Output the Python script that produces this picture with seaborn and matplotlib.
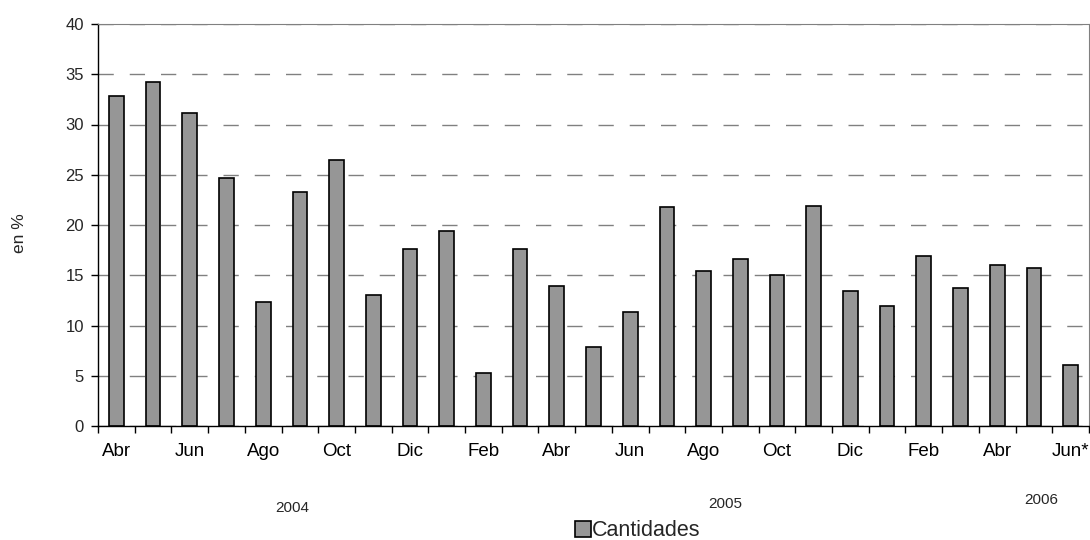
import matplotlib
matplotlib.use("Agg")
import matplotlib.pyplot as plt
import seaborn as sns
import pandas as pd
import numpy as np
from matplotlib.transforms import blended_transform_factory

# ---- data ----
months = ["Abr", "May", "Jun", "Jul", "Ago", "Sep", "Oct", "Nov", "Dic",
          "Ene", "Feb", "Mar", "Abr", "May", "Jun", "Jul", "Ago", "Sep", "Oct", "Nov", "Dic",
          "Ene", "Feb", "Mar", "Abr", "May", "Jun*"]
years = [2004] * 9 + [2005] * 12 + [2006] * 6
values = [32.8, 34.2, 31.1, 24.7, 12.3, 23.3, 26.5, 13.0, 17.6,
          19.4, 5.3, 17.6, 13.9, 7.9, 11.3, 21.8, 15.4, 16.6, 15.0, 21.9, 13.4,
          11.9, 16.9, 13.7, 16.0, 15.7, 6.1]
shown_ticks = ["Abr", "Jun", "Ago", "Oct", "Dic", "Feb", "Abr", "Jun",
               "Ago", "Oct", "Dic", "Feb", "Abr", "Jun*"]
year_labels = ["2004", "2005", "2006"]
year_label_x = [4.8, 16.6, 25.2]
year_label_y = [-0.204, -0.194, -0.184]
series_name = "Cantidades"
y_label = "en %"

df = pd.DataFrame({
    "period": [f"{y}-{m}" for y, m in zip(years, months)],
    "value": values,
})

# ---- figure ----
sns.set_style("white")
plt.rcParams["font.family"] = ["Liberation Sans", "DejaVu Sans"]

fig = plt.figure(figsize=(10.9, 5.4), dpi=100)
ax = fig.add_axes([98 / 1090, 114 / 540, 991 / 1090, 402 / 540])

ax.yaxis.grid(True, color="#808080", linestyle=(0, (11, 11.5)), linewidth=1.0)
ax.set_axisbelow(True)

sns.barplot(data=df, x="period", y="value", order=list(df["period"]),
            color="#969696", edgecolor="black", linewidth=1.2, width=0.4,
            saturation=1, label=series_name, ax=ax)
if ax.get_legend() is not None:
    ax.get_legend().remove()

ax.set_ylim(0, 40)
ax.set_xlim(-0.5, len(values) - 0.5)
ax.set_yticks(np.arange(0, 41, 5))
ax.set_xticks(np.arange(0, len(values), 2))
ax.set_xticklabels(shown_ticks)
ax.set_xticks(np.arange(-0.5, len(values), 1), minor=True)
ax.set_xlabel("")
ax.set_ylabel("")

ax.tick_params(axis="x", which="major", length=0, pad=12, labelsize=13.5, colors="black")
ax.tick_params(axis="x", which="minor", length=5, width=1, direction="out", color="black", bottom=True)
ax.tick_params(axis="y", which="major", length=5, width=1, direction="out", color="black",
               pad=5, labelsize=12, left=True)

for s in ["left", "bottom"]:
    ax.spines[s].set_color("black")
    ax.spines[s].set_linewidth(1.0)
for s in ["top", "right"]:
    ax.spines[s].set_color("#808080")
    ax.spines[s].set_linewidth(0.8)

trans = blended_transform_factory(ax.transData, ax.transAxes)
for lab, xx, yy in zip(year_labels, year_label_x, year_label_y):
    ax.text(xx, yy, lab, transform=trans, ha="center", va="center", fontsize=11)

fig.text(20 / 1090, (540 - 233) / 540, y_label, rotation=90, ha="center", va="center", fontsize=12.5)

fig.legend(handles=[ax.patches[0]], labels=[series_name], loc="center",
           bbox_to_anchor=(638 / 1090, 9 / 540), frameon=False, fontsize=15.5,
           handlelength=0.72, handleheight=0.72, handletextpad=0.08, borderpad=0)

fig.savefig("out.png", dpi=100)
